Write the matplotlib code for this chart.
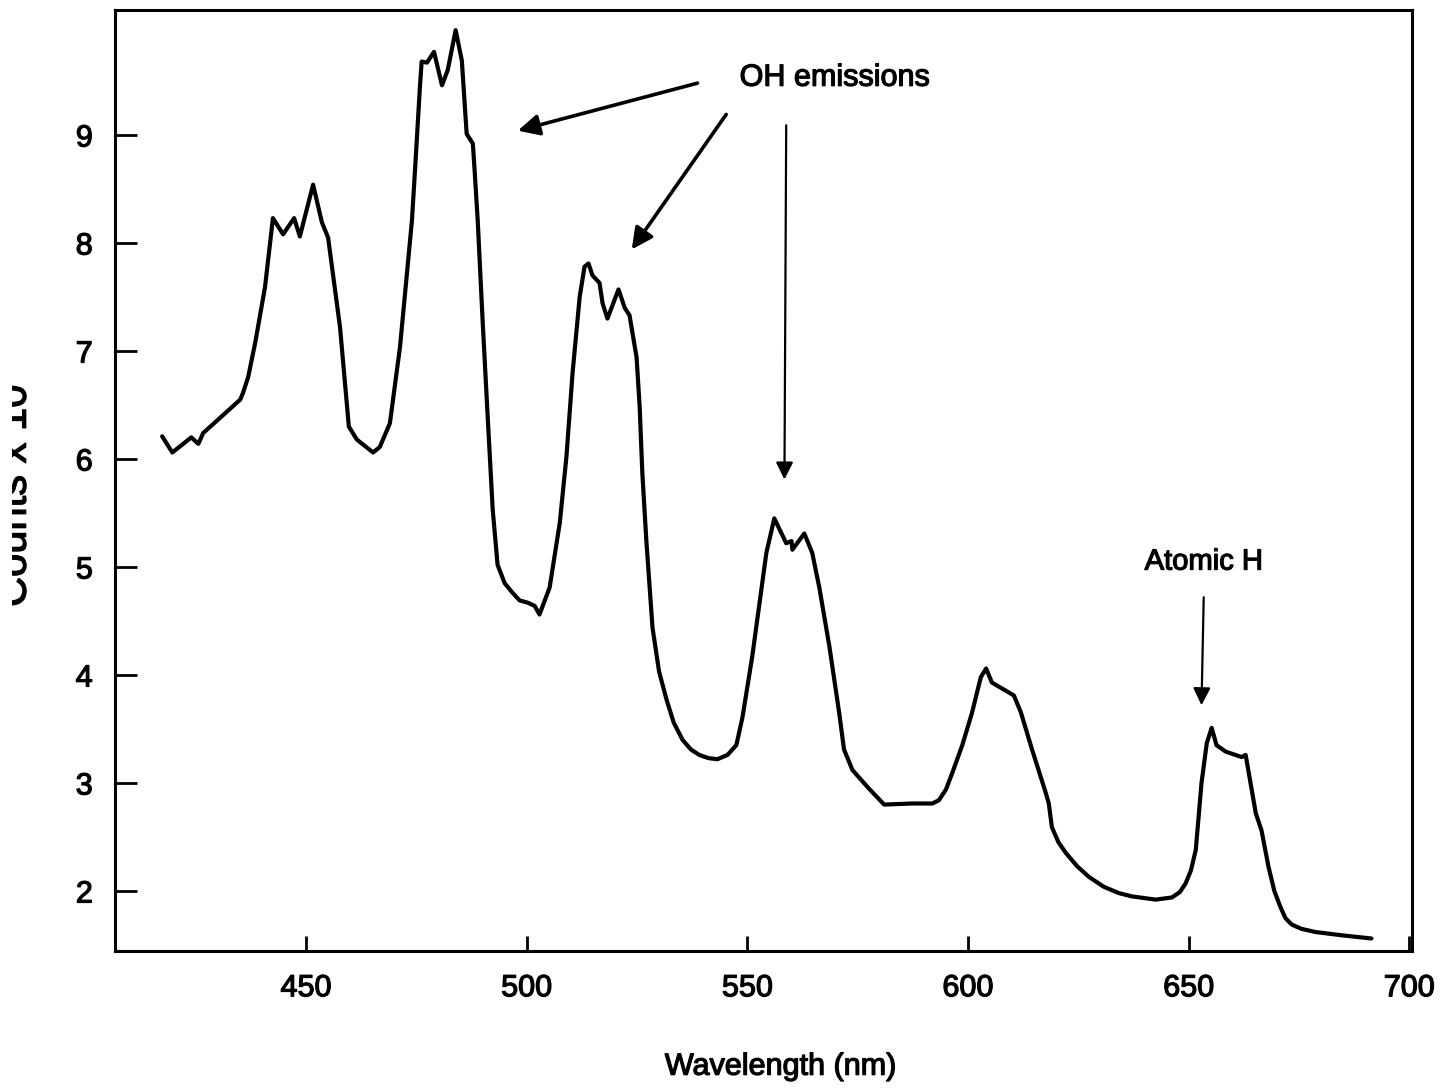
import numpy as np
import matplotlib.pyplot as plt
import matplotlib.patheffects as pe
from matplotlib.transforms import Bbox, TransformedBbox

plt.rcParams['font.family'] = ['Liberation Sans', 'DejaVu Sans']

# Spectrum: wavelength (nm) and counts
wavelength = [417.4, 419.7, 424.0, 425.6, 426.7, 435.1, 435.7, 436.9, 438.5, 440.7,
              442.5, 444.8, 447.3, 448.6, 451.6, 453.6, 455.0, 457.7, 459.7, 461.5,
              465.2, 466.7, 469.0, 471.3, 474.0, 474.7, 475.8, 476.2, 477.4, 479.0,
              480.8, 482.1, 483.9, 485.3, 486.4, 487.8, 488.2, 488.9, 490.0, 491.2,
              492.3, 493.4, 495.0, 496.6, 498.4, 500.2, 501.8, 502.9, 505.2, 507.5,
              509.0, 510.4, 512.0, 513.1, 514.0, 514.9, 516.5, 517.2, 518.3, 520.8,
              522.2, 523.3, 524.9, 525.6, 526.2, 527.1, 528.5, 530.0, 531.7, 533.3,
              535.3, 537.2, 539.1, 541.2, 543.2, 545.5, 547.5, 548.9, 551.1, 554.3,
              556.1, 558.8, 560.0, 560.2, 562.9, 564.7, 566.3, 568.6, 570.8, 571.9,
              573.8, 577.5, 581.0, 587.3, 591.9, 593.4, 595.0, 596.4, 598.7, 600.9,
              602.9, 604.1, 605.4, 610.4, 612.0, 614.5, 617.6, 618.3, 619.0, 620.5,
              622.2, 624.7, 627.4, 630.7, 634.2, 637.1, 642.5, 646.2, 648.0, 649.3,
              650.5, 651.6, 652.9, 654.1, 655.2, 656.3, 658.4, 660.6, 662.0, 662.9,
              665.2, 666.5, 668.1, 669.4, 670.8, 671.9, 673.3, 675.5, 678.7, 684.6,
              691.4]
counts = [6.21, 6.06, 6.20, 6.14, 6.24, 6.55, 6.61, 6.76, 7.08, 7.59,
          8.23, 8.08, 8.23, 8.06, 8.54, 8.19, 8.05, 7.22, 6.30, 6.18,
          6.06, 6.11, 6.33, 7.04, 8.21, 8.68, 9.44, 9.68, 9.67, 9.77,
          9.46, 9.60, 9.97, 9.69, 9.01, 8.92, 8.67, 8.21, 7.29, 6.36,
          5.53, 5.02, 4.85, 4.77, 4.69, 4.67, 4.64, 4.56, 4.81, 5.41,
          6.02, 6.80, 7.50, 7.78, 7.81, 7.70, 7.63, 7.44, 7.30, 7.57,
          7.40, 7.33, 6.94, 6.48, 5.87, 5.25, 4.44, 4.03, 3.77, 3.56,
          3.40, 3.31, 3.26, 3.23, 3.22, 3.26, 3.35, 3.61, 4.17, 5.13,
          5.45, 5.22, 5.24, 5.16, 5.31, 5.13, 4.81, 4.26, 3.65, 3.31,
          3.12, 2.95, 2.80, 2.81, 2.81, 2.84, 2.94, 3.09, 3.35, 3.65,
          3.98, 4.06, 3.93, 3.81, 3.65, 3.31, 2.91, 2.81, 2.59, 2.45,
          2.35, 2.23, 2.13, 2.04, 1.98, 1.95, 1.92, 1.94, 1.99, 2.07,
          2.19, 2.38, 3.00, 3.37, 3.51, 3.35, 3.29, 3.26, 3.24, 3.26,
          2.72, 2.56, 2.22, 2.00, 1.85, 1.75, 1.69, 1.65, 1.62, 1.59,
          1.56]

x_ticks = [450, 500, 550, 600, 650, 700]
y_ticks = [2, 3, 4, 5, 6, 7, 8, 9]

# scanned print looks a bit heavier than plain Helvetica
ink = [pe.withStroke(linewidth=0.9, foreground='black')]

fig = plt.figure(figsize=(14.53, 10.89), dpi=100)
ax = fig.add_axes([0.0791, 0.1267, 0.8927, 0.8641])

ax.plot(wavelength, counts, color='black', lw=3.0,
        solid_joinstyle='round', solid_capstyle='round')

ax.set_xlim(406.7, 700.6)
ax.set_ylim(1.444, 10.157)
ax.set_xticks(x_ticks)
ax.set_yticks(y_ticks)
ax.tick_params(axis='both', direction='in', width=2, labelsize=22,
               top=False, right=False)
ax.tick_params(axis='x', length=11, pad=16)
ax.tick_params(axis='y', length=16, pad=16)
for sp in ax.spines.values():
    sp.set_linewidth(2.2)
for lbl in ax.get_xticklabels() + ax.get_yticklabels():
    lbl.set_path_effects(ink)

ax.set_xlabel('Wavelength (nm)', fontsize=22, path_effects=ink)
ax.xaxis.set_label_coords(0.513, -0.107)
ax.xaxis.label.set_va('top')

# y label: in the scan only the lower half of the glyphs survives the crop
ylab = fig.text(35 / 1453, 1 - 607 / 1089, 'Counts x 10$^5$', rotation=90,
                fontsize=30, ha='right', va='bottom', path_effects=ink)
ylab.set_clip_box(TransformedBbox(Bbox([[12 / 1453, 0], [1, 1]]), fig.transFigure))
ylab.set_clip_on(True)

# Annotations
ax.text(569.7, 9.53, 'OH emissions', fontsize=22, ha='center', va='center',
        path_effects=ink)
ax.annotate('', xy=(498.0, 9.04), xytext=(538.7, 9.48),
            arrowprops=dict(arrowstyle='-|>', lw=2.6, color='black',
                            mutation_scale=32, shrinkA=0, shrinkB=0))
ax.annotate('', xy=(523.8, 7.94), xytext=(545.2, 9.19),
            arrowprops=dict(arrowstyle='-|>', lw=2.6, color='black',
                            mutation_scale=32, shrinkA=0, shrinkB=0))
ax.annotate('', xy=(558.4, 5.81), xytext=(558.8, 9.09),
            arrowprops=dict(arrowstyle='-|>', lw=1.6, color='black',
                            mutation_scale=26, shrinkA=0, shrinkB=0))

ax.text(653.4, 5.05, 'Atomic H', fontsize=21, ha='center', va='center',
        path_effects=ink)
ax.annotate('', xy=(652.9, 3.72), xytext=(653.4, 4.72),
            arrowprops=dict(arrowstyle='-|>', lw=1.6, color='black',
                            mutation_scale=26, shrinkA=0, shrinkB=0))

fig.savefig('out.png', dpi=100)
